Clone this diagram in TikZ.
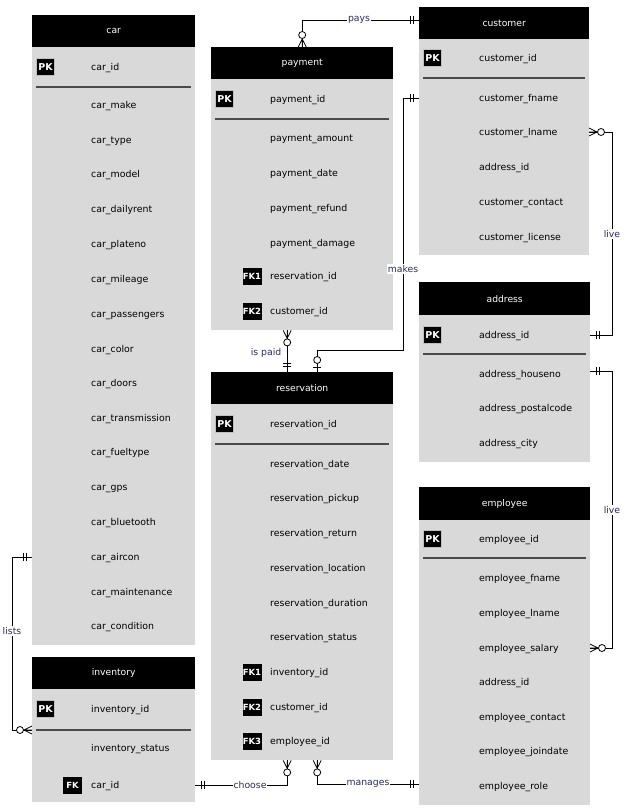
\documentclass[tikz,border=0pt]{standalone}
\usepackage{fontspec}
\setmainfont{DejaVu Sans}
\definecolor{bodygray}{HTML}{D9D9D9}
\definecolor{sepgray}{HTML}{4A4A4A}
\definecolor{lblcol}{HTML}{2B2B5A}
\begin{document}
\begin{tikzpicture}[x=1pt,y=-1pt,
 hdr/.style={fill=black,text=white,inner sep=0pt,anchor=north west,font=\fontsize{9.2}{10}\selectfont},
 bodybox/.style={fill=bodygray,inner sep=0pt,anchor=north west},
 fld/.style={anchor=west,inner sep=0pt,yshift=-1.5pt,font=\fontsize{9.4}{11}\selectfont},
 pkbox/.style={fill=black,draw=white!75!black,line width=0.8pt,text=white,inner sep=0pt,minimum width=18pt,minimum height=17pt,font=\bfseries\fontsize{9.5}{10}\selectfont},
 fkbox/.style={fill=black,text=white,inner sep=0pt,minimum width=19pt,minimum height=17pt,font=\bfseries\fontsize{8.5}{9}\selectfont},
 sepline/.style={draw=sepgray,line width=1.2pt},
 rel/.style={draw=black,line width=0.8pt},
 rlabel/.style={fill=white,text=lblcol,inner sep=1pt,font=\fontsize{9.3}{11}\selectfont},
 mandone/.pic={\draw[line width=0.8pt] (6,-4)--(6,4) (9,-4)--(9,4);},
 zeroone/.pic={\draw[line width=0.8pt] (5,-4)--(5,4); \draw[line width=0.8pt,fill=white] (12,0) circle[radius=3.5];},
 zeromany/.pic={\draw[line width=0.8pt] (0,-4)--(8,0)--(0,4) (0,0)--(8,0); \draw[line width=0.8pt,fill=white] (12,0) circle[radius=3.5];}
]
\fill[white] (0,0) rectangle (624,809);
\useasboundingbox (0,0) rectangle (624,809);

% ---------- car ----------
\node[hdr,minimum width=163pt,minimum height=32pt] (carH) at (32,15) {car};
\node[bodybox,minimum width=163pt,minimum height=598pt] (carB) at (32,47) {};
\node[pkbox] (carPK) at (45.5,67) {PK};
\draw[sepline] (36,87) -- (191,87);
\foreach \n/\y/\t in {carid/67/car\_id, carmake/105/car\_make, cartype/140/car\_type, carmodel/174/car\_model,
  cardaily/209/car\_dailyrent, carplate/244/car\_plateno, carmile/279/car\_mileage, carpass/314/car\_passengers,
  carcolor/349/car\_color, cardoors/383/car\_doors, cartrans/418/car\_transmission, carfuel/452/car\_fueltype,
  cargps/487/car\_gps, carblue/522/car\_bluetooth, caircon/557/car\_aircon, carmaint/592/car\_maintenance,
  carcond/626/car\_condition}
  \node[fld] (\n) at (91,\y) {\t};

% ---------- payment ----------
\node[hdr,minimum width=182pt,minimum height=32pt] (payH) at (211,47) {payment};
\node[bodybox,minimum width=182pt,minimum height=251pt] (payB) at (211,79) {};
\node[pkbox] (payPK) at (224.5,99) {PK};
\draw[sepline] (215,119) -- (389,119);
\node[fkbox] (payFK1) at (252,276) {FK1};
\node[fkbox] (payFK2) at (252,311) {FK2};
\foreach \n/\y/\t in {payid/99/payment\_id, payamt/138/payment\_amount, paydate/173/payment\_date,
  payref/208/payment\_refund, paydmg/243/payment\_damage, payres/276/reservation\_id, paycust/311/customer\_id}
  \node[fld] (\n) at (270,\y) {\t};

% ---------- customer ----------
\node[hdr,minimum width=170pt,minimum height=32pt] (custH) at (419,7) {customer};
\node[bodybox,minimum width=170pt,minimum height=216pt] (custB) at (419,39) {};
\node[pkbox] (custPK) at (432.5,58) {PK};
\draw[sepline] (423,78) -- (585,78);
\foreach \n/\y/\t in {custid/58/customer\_id, cfname/98/customer\_fname, clname/132/customer\_lname,
  caddr/167/address\_id, ccontact/202/customer\_contact, clicense/237/customer\_license}
  \node[fld] (\n) at (479,\y) {\t};

% ---------- address ----------
\node[hdr,minimum width=171pt,minimum height=33pt] (addrH) at (419,282) {address};
\node[bodybox,minimum width=171pt,minimum height=147pt] (addrB) at (419,315) {};
\node[pkbox] (addrPK) at (432.5,335) {PK};
\draw[sepline] (423,354) -- (586,354);
\foreach \n/\y/\t in {addrid/335/address\_id, addrhouse/374/address\_houseno,
  addrpost/408/address\_postalcode, addrcity/443/address\_city}
  \node[fld] (\n) at (479,\y) {\t};

% ---------- employee ----------
\node[hdr,minimum width=171pt,minimum height=33pt] (empH) at (419,487) {employee};
\node[bodybox,minimum width=171pt,minimum height=285pt] (empB) at (419,520) {};
\node[pkbox] (empPK) at (432.5,539) {PK};
\draw[sepline] (423,558) -- (586,558);
\foreach \n/\y/\t in {empid/539/employee\_id, empf/578/employee\_fname, empl/613/employee\_lname,
  empsalary/648/employee\_salary, empaddr/682/address\_id, empcont/717/employee\_contact,
  empjoin/751/employee\_joindate, emprole/786/employee\_role}
  \node[fld] (\n) at (479,\y) {\t};

% ---------- reservation ----------
\node[hdr,minimum width=182pt,minimum height=32pt] (resH) at (211,372) {reservation};
\node[bodybox,minimum width=182pt,minimum height=356pt] (resB) at (211,404) {};
\node[pkbox] (resPK) at (224.5,424) {PK};
\draw[sepline] (215,444) -- (389,444);
\node[fkbox] (resFK1) at (252,672) {FK1};
\node[fkbox] (resFK2) at (252,707) {FK2};
\node[fkbox] (resFK3) at (252,741) {FK3};
\foreach \n/\y/\t in {resid/424/reservation\_id, resdate/464/reservation\_date, respick/498/reservation\_pickup,
  resret/533/reservation\_return, resloc/568/reservation\_location, resdur/603/reservation\_duration,
  resstat/637/reservation\_status, resinv/672/inventory\_id, rescust/707/customer\_id, resemp/741/employee\_id}
  \node[fld] (\n) at (270,\y) {\t};

% ---------- inventory ----------
\node[hdr,minimum width=163pt,minimum height=32pt] (invH) at (32,657) {inventory};
\node[bodybox,minimum width=163pt,minimum height=113pt] (invB) at (32,689) {};
\node[pkbox] (invPK) at (45.5,709) {PK};
\draw[sepline] (36,730) -- (191,730);
\node[fkbox] (invFK) at (72.5,785) {FK};
\foreach \n/\y/\t in {invid/709/inventory\_id, invstat/748/inventory\_status, invcarid/785/car\_id}
  \node[fld] (\n) at (91,\y) {\t};

% ---------- relationships ----------
\coordinate (mkA) at (403,350);
\coordinate (lvA) at (612,335);
\coordinate (lvB) at (612,648);
\coordinate (lsA) at (12,730);
\coordinate (cfA) at (419,98);
\coordinate (clA) at (589,132);
\coordinate (adA) at (590,335);
\coordinate (adB) at (590,371);
\coordinate (emA) at (590,648);
\coordinate (emB) at (419,784);
\coordinate (caA) at (32,557);
\coordinate (ivA) at (195,785);

% pays
\draw[rel] (payH.north) |- ([yshift=3pt]custH.west);
\pic[rotate=90] at (payH.north) {zeromany};
\pic[rotate=180] at ([yshift=3pt]custH.west) {mandone};
\node[rlabel] (lpays) at (359,20) {pays};

% makes
\draw[rel] (cfA) -| (mkA) -| ([xshift=15pt]resH.north);
\pic[rotate=180] at (cfA) {mandone};
\pic[rotate=90] at ([xshift=15pt]resH.north) {zeroone};
\node[rlabel] (lmakes) at (403,269) {makes};

% is paid
\draw[rel] ([xshift=-15pt]payB.south) -- ([xshift=-15pt]resH.north);
\pic[rotate=-90] at ([xshift=-15pt]payB.south) {zeromany};
\pic[rotate=90] at ([xshift=-15pt]resH.north) {mandone};
\node[rlabel] (lispaid) at (266,353) {is paid};

% live (customer - address)
\draw[rel] (clA) -| (lvA) -- (adA);
\pic at (clA) {zeromany};
\pic at (adA) {mandone};
\node[rlabel] (llive1) at (612,234) {live};

% live (address - employee)
\draw[rel] (adB) -| (lvB) -- (emA);
\pic at (adB) {mandone};
\pic at (emA) {zeromany};
\node[rlabel] (llive2) at (612,510) {live};

% lists
\draw[rel] (caA) -| (lsA) -- (invB.west |- lsA);
\pic[rotate=180] at (caA) {mandone};
\pic[rotate=180] at (invB.west |- lsA) {zeromany};
\node[rlabel] (llists) at (12,631) {lists};

% choose
\draw[rel] (ivA) -| ([xshift=-15pt]resB.south);
\pic at (ivA) {mandone};
\pic[rotate=-90] at ([xshift=-15pt]resB.south) {zeromany};
\node[rlabel] (lchoose) at (250,785) {choose};

% manages
\draw[rel] (emB) -| ([xshift=15pt]resB.south);
\pic[rotate=180] at (emB) {mandone};
\pic[rotate=-90] at ([xshift=15pt]resB.south) {zeromany};
\node[rlabel] (lmanages) at (368,784) {manages};
\end{tikzpicture}
\end{document}
